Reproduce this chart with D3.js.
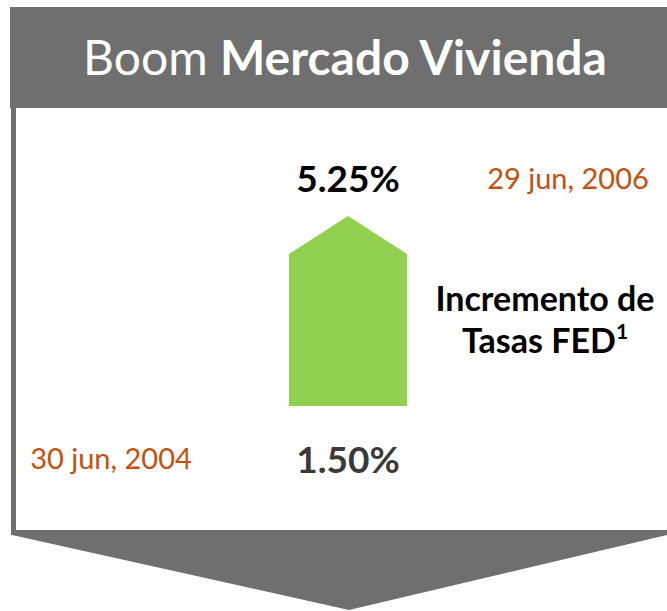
<!DOCTYPE html>
<html>
<head>
<meta charset="utf-8">
<script src="https://cdn.jsdelivr.net/npm/d3@7"></script>
<style>
  body { margin: 0; background: #fff; }
  svg { display: block; font-family: Lato, "Open Sans", sans-serif; }
</style>
</head>
<body>
<svg id="chart" width="667" height="611"></svg>
<script>
// fed funds rate, start and end of the hike cycle
var rateLabels = ['30 jun, 2004', '29 jun, 2006'];
var rateValues = [1.50, 5.25];
var titleParts = ['Boom ', 'Mercado Vivienda'];
var noteLines = ['Incremento de', 'Tasas FED'];

var svg = d3.select('#chart');
var grey = '#6f6f6f';
var orange = '#c5500f';

// header band
svg.append('rect')
  .attr('x', 10).attr('y', 7)
  .attr('width', 657).attr('height', 101)
  .attr('fill', grey);

var title = svg.append('text')
  .attr('x', 345).attr('y', 75)
  .attr('text-anchor', 'middle')
  .attr('fill', '#fff')
  .style('font-size', '48px');
title.append('tspan').style('font-weight', 400).text(titleParts[0]);
title.append('tspan').style('font-weight', 700).text(titleParts[1]);

// box border left + bottom
svg.append('rect').attr('x', 11).attr('y', 108).attr('width', 5).attr('height', 427).attr('fill', grey);
svg.append('rect').attr('x', 11).attr('y', 530).attr('width', 656).attr('height', 5).attr('fill', grey);

// bottom chevron
svg.append('path')
  .attr('d', d3.line()([[12, 535], [667, 535], [349, 610]]) + 'Z')
  .attr('fill', grey);

// arrow for the rate rise
var y = d3.scaleLinear().domain(d3.extent(rateValues)).range([406, 216]);
var x = d3.scaleBand().domain(['fed']).range([289, 407]);

var x0 = x('fed'), x1 = x0 + x.bandwidth(), xm = x0 + x.bandwidth() / 2;
var shoulder = y(rateValues[1]) + 38;
svg.append('path')
  .attr('d', d3.line()([
    [x0, y(rateValues[0])], [x0, shoulder], [xm, y(rateValues[1])],
    [x1, shoulder], [x1, y(rateValues[0])]
  ]) + 'Z')
  .attr('fill', '#92d050');

// values
svg.append('text')
  .attr('x', xm).attr('y', y(rateValues[1]) - 24)
  .attr('text-anchor', 'middle')
  .style('font-size', '37px').style('font-weight', 700)
  .attr('fill', '#000')
  .text(rateValues[1].toFixed(2) + '%');

svg.append('text')
  .attr('x', xm).attr('y', y(rateValues[0]) + 67)
  .attr('text-anchor', 'middle')
  .style('font-size', '37px').style('font-weight', 700)
  .attr('fill', '#3a3a3a')
  .text(rateValues[0].toFixed(2) + '%');

// dates
svg.append('text')
  .attr('x', 568).attr('y', 189)
  .attr('text-anchor', 'middle')
  .style('font-size', '29px')
  .attr('fill', orange)
  .text(rateLabels[1]);

svg.append('text')
  .attr('x', 111).attr('y', 469)
  .attr('text-anchor', 'middle')
  .style('font-size', '29px')
  .attr('fill', orange)
  .text(rateLabels[0]);

// side note
var note = svg.append('text')
  .attr('text-anchor', 'middle')
  .style('font-size', '34px').style('font-weight', 700)
  .attr('fill', '#000');
note.append('tspan').attr('x', 545).attr('y', 311).text(noteLines[0]);
note.append('tspan').attr('x', 545).attr('y', 353).text(noteLines[1]);
note.append('tspan').attr('dy', -14).style('font-size', '21px').text('1');
</script>
</body>
</html>
